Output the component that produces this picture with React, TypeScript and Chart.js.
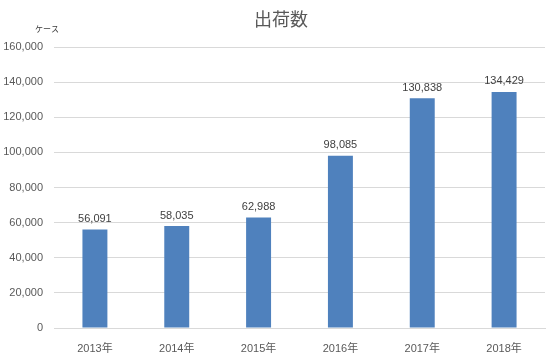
import React, { useEffect, useRef } from "react";
import { Chart, registerables } from "chart.js";

Chart.register(...registerables);

const title = "出荷数";
const unitLabel = "ケース";
const categories = ["2013年", "2014年", "2015年", "2016年", "2017年", "2018年"];
const shipments = [56091, 58035, 62988, 98085, 130838, 134429];
const yMax = 160000;
const yStep = 20000;

const FONT = '"Liberation Sans", "Noto Sans CJK JP", sans-serif';

const labelsPlugin = {
  id: "extras",
  afterDatasetsDraw(chart: any) {
    const ctx = chart.ctx;
    const meta = chart.getDatasetMeta(0);
    ctx.save();
    ctx.fillStyle = "#404040";
    ctx.font = `11px ${FONT}`;
    ctx.textAlign = "center";
    ctx.textBaseline = "bottom";
    meta.data.forEach((bar: any, i: number) => {
      ctx.fillText(shipments[i].toLocaleString("en-US"), bar.x, bar.y - 5);
    });
    // title
    ctx.fillStyle = "#595959";
    ctx.font = `18px "Noto Sans CJK JP", sans-serif`;
    ctx.textBaseline = "middle";
    ctx.fillText(title, (chart.width) / 2 + 5, 19);
    // unit
    ctx.font = `8px "Noto Sans CJK JP", sans-serif`;
    ctx.fillStyle = "#404040";
    ctx.textAlign = "left";
    ctx.fillText(unitLabel, 35, 29);
    ctx.restore();
  },
};

export default function App() {
  const ref = useRef<HTMLCanvasElement | null>(null);
  useEffect(() => {
    document.body.style.margin = "0";
    const chart = new Chart(ref.current!, {
      type: "bar",
      data: {
        labels: categories,
        datasets: [
          {
            data: shipments,
            backgroundColor: "#4f81bd",
            barPercentage: 0.305,
            categoryPercentage: 1,
          },
        ],
      },
      options: {
        animation: false,
        responsive: false,
        layout: { padding: { top: 47, right: 7, left: 0, bottom: 0 } },
        plugins: { legend: { display: false }, tooltip: { enabled: false } },
        scales: {
          x: {
            grid: { display: false },
            border: { color: "#d9d9d9" },
            ticks: { color: "#595959", font: { family: FONT, size: 11 }, padding: 6 },
            afterFit: (s: any) => {
              s.height = 28;
            },
          },
          y: {
            min: 0,
            max: yMax,
            grid: { color: "#d9d9d9", drawTicks: false },
            border: { display: false },
            ticks: {
              stepSize: yStep,
              color: "#595959",
              font: { family: FONT, size: 11 },
              padding: 11,
              callback: (v: any) => Number(v).toLocaleString("en-US"),
            },
            afterFit: (s: any) => {
              s.width = 54;
            },
          },
        },
      },
      plugins: [labelsPlugin],
    });
    return () => chart.destroy();
  }, []);
  return <canvas ref={ref} width={552} height={356} style={{ display: "block" }} />;
}
